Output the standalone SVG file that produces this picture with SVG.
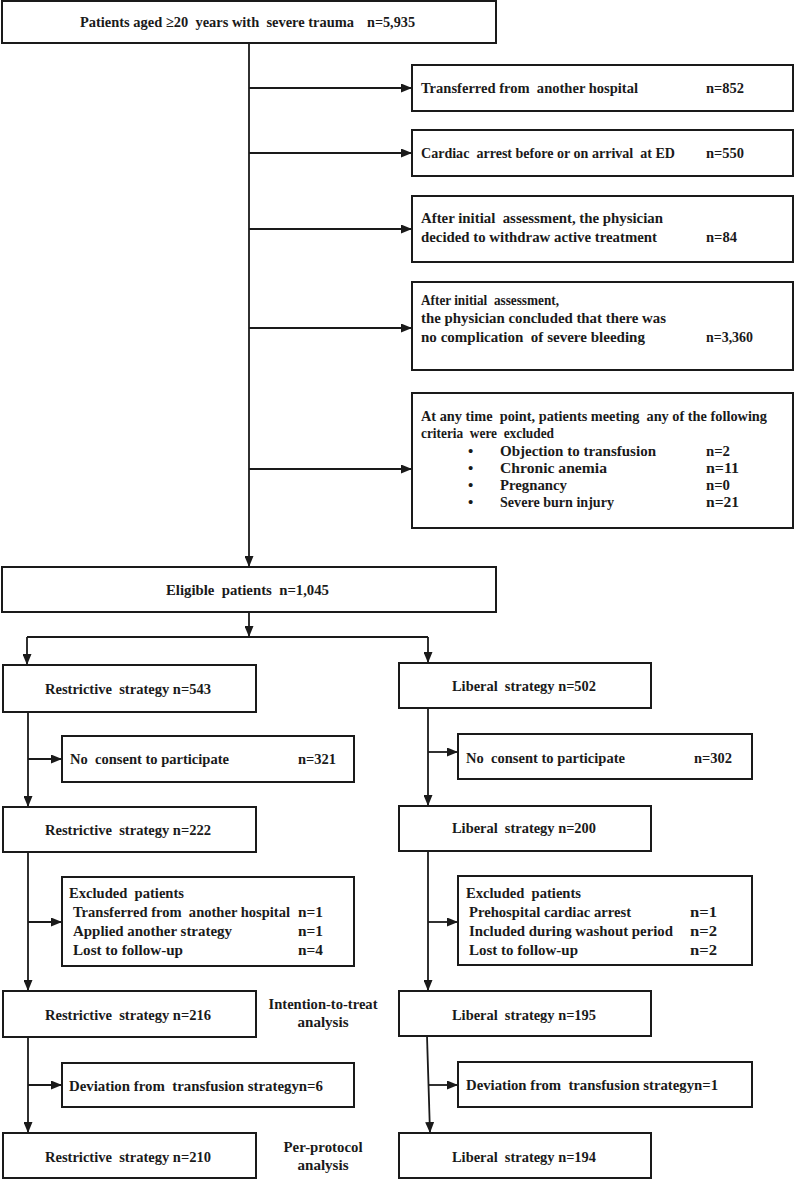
<svg xmlns="http://www.w3.org/2000/svg" width="796" height="1180" viewBox="0 0 796 1180">
<defs>
<marker id="ah" markerWidth="11" markerHeight="9" refX="11" refY="4.5" orient="auto" markerUnits="userSpaceOnUse"><path d="M0,0 L11,4.5 L0,9 z" fill="#1a1a1a"/></marker>
<style>
.box{fill:#fff;stroke:#1a1a1a;stroke-width:2}
.ln{stroke:#1a1a1a;stroke-width:1.8;fill:none}
.ar{marker-end:url(#ah)}
text{font-family:"Liberation Serif","Times New Roman",serif;font-weight:bold;font-size:15px;fill:#1a1a1a;white-space:pre}
.m{text-anchor:middle}
</style>
</defs>
<rect width="796" height="1180" fill="#fff"/>
<g id="connectors">
<path class="ln ar" d="M249,44 V567"/>
<path class="ln ar" d="M249,88 H412"/>
<path class="ln ar" d="M249,153 H412"/>
<path class="ln ar" d="M249,229 H412"/>
<path class="ln ar" d="M249,328 H412"/>
<path class="ln ar" d="M249,469 H412"/>
<path class="ln ar" d="M249,612 V637"/>
<path class="ln" d="M27,637 H428"/>
<path class="ln ar" d="M27,637 V665"/>
<path class="ln ar" d="M428,637 V663"/>
<path class="ln ar" d="M28,712 V807"/>
<path class="ln ar" d="M28,759 H62"/>
<path class="ln ar" d="M28,852 V991"/>
<path class="ln ar" d="M28,922 H62"/>
<path class="ln ar" d="M28,1037 V1133"/>
<path class="ln ar" d="M28,1085 H62"/>
<path class="ln ar" d="M428,708 V806"/>
<path class="ln ar" d="M428,752 H458"/>
<path class="ln ar" d="M428,851 V991"/>
<path class="ln ar" d="M428,922 H458"/>
<path class="ln ar" d="M427,1036 L430,1133"/>
<path class="ln ar" d="M429,1085 H458"/>
</g>
<g id="n-start">
<rect class="box" x="2" y="1" width="494" height="42"/>
<text x="80" y="27" textLength="274" lengthAdjust="spacingAndGlyphs">Patients aged ≥20  years with  severe trauma</text>
<text x="367" y="27" textLength="48" lengthAdjust="spacingAndGlyphs">n=5,935</text>
</g>
<g id="n-ex1">
<rect class="box" x="412" y="65" width="381" height="46"/>
<text x="421" y="93" textLength="217" lengthAdjust="spacingAndGlyphs">Transferred from  another hospital</text>
<text x="706" y="93" textLength="38" lengthAdjust="spacingAndGlyphs">n=852</text>
</g>
<g id="n-ex2">
<rect class="box" x="412" y="130" width="381" height="46"/>
<text x="421" y="158" textLength="254" lengthAdjust="spacingAndGlyphs">Cardiac  arrest before or on arrival  at ED</text>
<text x="706" y="158" textLength="38" lengthAdjust="spacingAndGlyphs">n=550</text>
</g>
<g id="n-ex3">
<rect class="box" x="412" y="196" width="381" height="66"/>
<text x="421" y="223" textLength="242" lengthAdjust="spacingAndGlyphs">After initial  assessment, the physician</text>
<text x="421" y="242" textLength="236" lengthAdjust="spacingAndGlyphs">decided to withdraw active treatment</text>
<text x="706" y="242" textLength="31" lengthAdjust="spacingAndGlyphs">n=84</text>
</g>
<g id="n-ex4">
<rect class="box" x="412" y="282" width="381" height="88"/>
<text x="421" y="305" textLength="138" lengthAdjust="spacingAndGlyphs">After initial  assessment,</text>
<text x="421" y="323" textLength="245" lengthAdjust="spacingAndGlyphs">the physician concluded that there was</text>
<text x="421" y="342" textLength="224" lengthAdjust="spacingAndGlyphs">no complication  of severe bleeding</text>
<text x="706" y="342" textLength="47" lengthAdjust="spacingAndGlyphs">n=3,360</text>
</g>
<g id="n-ex5">
<rect class="box" x="412" y="393" width="381" height="135"/>
<text x="421" y="421" textLength="346" lengthAdjust="spacingAndGlyphs">At any time  point, patients meeting  any of the following</text>
<text x="421" y="438" textLength="133" lengthAdjust="spacingAndGlyphs">criteria  were  excluded</text>
<text x="468" y="456">•</text><text x="500" y="456" textLength="156" lengthAdjust="spacingAndGlyphs">Objection to transfusion</text><text x="706" y="456" textLength="24" lengthAdjust="spacingAndGlyphs">n=2</text>
<text x="468" y="473">•</text><text x="500" y="473" textLength="107" lengthAdjust="spacingAndGlyphs">Chronic anemia</text><text x="706" y="473" textLength="33" lengthAdjust="spacingAndGlyphs">n=11</text>
<text x="468" y="490">•</text><text x="500" y="490" textLength="67" lengthAdjust="spacingAndGlyphs">Pregnancy</text><text x="706" y="490" textLength="24" lengthAdjust="spacingAndGlyphs">n=0</text>
<text x="468" y="507">•</text><text x="500" y="507" textLength="114" lengthAdjust="spacingAndGlyphs">Severe burn injury</text><text x="706" y="507" textLength="33" lengthAdjust="spacingAndGlyphs">n=21</text>
</g>
<g id="n-eligible">
<rect class="box" x="2" y="567" width="494" height="45"/>
<text x="166" y="595" textLength="163" lengthAdjust="spacingAndGlyphs">Eligible  patients  n=1,045</text>
</g>
<g id="n-r543">
<rect class="box" x="3" y="665" width="253" height="47"/>
<text x="45" y="694" textLength="166" lengthAdjust="spacingAndGlyphs">Restrictive  strategy n=543</text>
</g>
<g id="n-l502">
<rect class="box" x="399" y="663" width="252" height="45"/>
<text x="452" y="691" textLength="144" lengthAdjust="spacingAndGlyphs">Liberal  strategy n=502</text>
</g>
<g id="n-nc321">
<rect class="box" x="62" y="736" width="292" height="46"/>
<text x="70" y="764" textLength="159" lengthAdjust="spacingAndGlyphs">No  consent to participate</text>
<text x="298" y="764" textLength="38" lengthAdjust="spacingAndGlyphs">n=321</text>
</g>
<g id="n-nc302">
<rect class="box" x="458" y="734" width="294" height="45"/>
<text x="466" y="763" textLength="159" lengthAdjust="spacingAndGlyphs">No  consent to participate</text>
<text x="694" y="763" textLength="38" lengthAdjust="spacingAndGlyphs">n=302</text>
</g>
<g id="n-r222">
<rect class="box" x="3" y="807" width="253" height="45"/>
<text x="45" y="835" textLength="166" lengthAdjust="spacingAndGlyphs">Restrictive  strategy n=222</text>
</g>
<g id="n-l200">
<rect class="box" x="399" y="806" width="252" height="45"/>
<text x="452" y="833" textLength="144" lengthAdjust="spacingAndGlyphs">Liberal  strategy n=200</text>
</g>
<g id="n-exl">
<rect class="box" x="62" y="877" width="292" height="89"/>
<text x="69" y="898" textLength="115" lengthAdjust="spacingAndGlyphs">Excluded  patients</text>
<text x="73" y="917" textLength="217" lengthAdjust="spacingAndGlyphs">Transferred from  another hospital</text><text x="298" y="917" textLength="25" lengthAdjust="spacingAndGlyphs">n=1</text>
<text x="73" y="936" textLength="159" lengthAdjust="spacingAndGlyphs">Applied another strategy</text><text x="298" y="936" textLength="25" lengthAdjust="spacingAndGlyphs">n=1</text>
<text x="73" y="955" textLength="110" lengthAdjust="spacingAndGlyphs">Lost to follow-up</text><text x="298" y="955" textLength="25" lengthAdjust="spacingAndGlyphs">n=4</text>
</g>
<g id="n-exr">
<rect class="box" x="458" y="876" width="294" height="89"/>
<text x="466" y="898" textLength="115" lengthAdjust="spacingAndGlyphs">Excluded  patients</text>
<text x="469" y="917" textLength="162" lengthAdjust="spacingAndGlyphs">Prehospital cardiac arrest</text><text x="690" y="917" textLength="27" lengthAdjust="spacingAndGlyphs">n=1</text>
<text x="469" y="936" textLength="204" lengthAdjust="spacingAndGlyphs">Included during washout period</text><text x="690" y="936" textLength="27" lengthAdjust="spacingAndGlyphs">n=2</text>
<text x="469" y="955" textLength="109" lengthAdjust="spacingAndGlyphs">Lost to follow-up</text><text x="690" y="955" textLength="27" lengthAdjust="spacingAndGlyphs">n=2</text>
</g>
<g id="n-r216">
<rect class="box" x="3" y="991" width="253" height="46"/>
<text x="45" y="1020" textLength="166" lengthAdjust="spacingAndGlyphs">Restrictive  strategy n=216</text>
</g>
<g id="n-l195">
<rect class="box" x="399" y="991" width="252" height="45"/>
<text x="452" y="1020" textLength="144" lengthAdjust="spacingAndGlyphs">Liberal  strategy n=195</text>
</g>
<g id="n-itt">
<text class="m" x="323" y="1009" textLength="109" lengthAdjust="spacingAndGlyphs">Intention-to-treat</text>
<text class="m" x="323" y="1027" textLength="51" lengthAdjust="spacingAndGlyphs">analysis</text>
</g>
<g id="n-devl">
<rect class="box" x="62" y="1063" width="292" height="44"/>
<text x="69" y="1091" textLength="254" lengthAdjust="spacingAndGlyphs">Deviation from  transfusion strategyn=6</text>
</g>
<g id="n-devr">
<rect class="box" x="458" y="1062" width="294" height="45"/>
<text x="466" y="1090" textLength="252" lengthAdjust="spacingAndGlyphs">Deviation from  transfusion strategyn=1</text>
</g>
<g id="n-r210">
<rect class="box" x="3" y="1133" width="253" height="45"/>
<text x="45" y="1162" textLength="166" lengthAdjust="spacingAndGlyphs">Restrictive  strategy n=210</text>
</g>
<g id="n-l194">
<rect class="box" x="399" y="1133" width="252" height="45"/>
<text x="452" y="1162" textLength="144" lengthAdjust="spacingAndGlyphs">Liberal  strategy n=194</text>
</g>
<g id="n-pp">
<text class="m" x="323" y="1152" textLength="79" lengthAdjust="spacingAndGlyphs">Per-protocol</text>
<text class="m" x="323" y="1170" textLength="51" lengthAdjust="spacingAndGlyphs">analysis</text>
</g>
</svg>
